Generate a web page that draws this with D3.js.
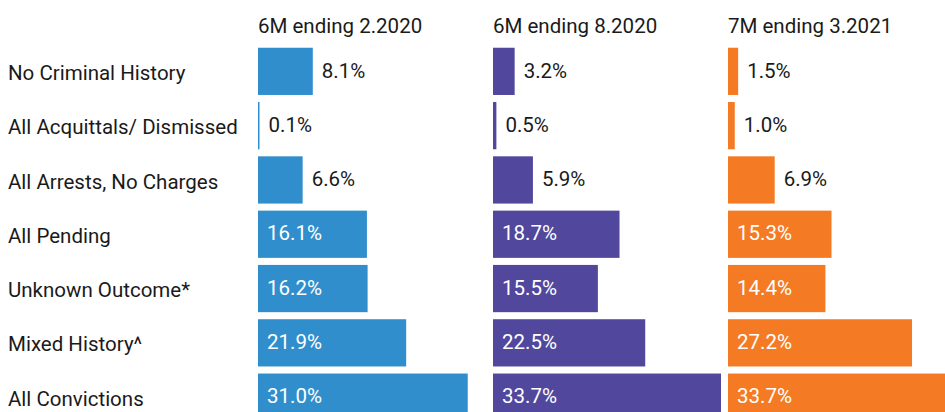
<!DOCTYPE html>
<html>
<head>
<meta charset="utf-8">
<script src="https://cdn.jsdelivr.net/npm/d3@7"></script>
<style>
  body { margin: 0; background: #fff; }
  svg { display: block; font-family: Roboto, "Noto Sans", sans-serif; }
</style>
</head>
<body>
<div id="chart"></div>
<script>
const categories = [
    'No Criminal History',
    'All Acquittals/ Dismissed',
    'All Arrests, No Charges',
    'All Pending',
    'Unknown Outcome*',
    'Mixed History^',
    'All Convictions'
];

const periods = ['6M ending 2.2020', '6M ending 8.2020', '7M ending 3.2021'];

const feb2020 = [8.1, 0.1, 6.6, 16.1, 16.2, 21.9, 31.0];
const aug2020 = [3.2, 0.5, 5.9, 18.7, 15.5, 22.5, 33.7];
const mar2021 = [1.5, 1.0, 6.9, 15.3, 14.4, 27.2, 33.7];

const colors = ['#318ecd', '#51479d', '#f47b23'];

const series = [feb2020, aug2020, mar2021];

const width = 945;
const height = 412;

const svg = d3.select('#chart').append('svg')
    .attr('width', width)
    .attr('height', height);

// one row per category
const y = d3.scaleBand()
    .domain(categories)
    .range([44.2, 44.2 + 54.3 * categories.length])
    .paddingInner(0.13)
    .paddingOuter(0.065);

// each panel starts here
const panelX = d3.scalePoint()
    .domain(periods)
    .range([258, 728]);

const x = d3.scaleLinear()
    .domain([0, 33.7])
    .range([0, 228]);

// row labels
svg.append('g')
    .selectAll('text')
    .data(categories)
    .join('text')
        .attr('x', 8)
        .attr('y', d => y(d) + y.bandwidth() / 2)
        .attr('dy', '0.42em')
        .attr('font-size', 20.5)
        .attr('fill', '#1a1a1a')
        .text(d => d);

periods.forEach((period, p) => {
    const g = svg.append('g')
        .attr('transform', `translate(${panelX(period)},0)`);

    g.append('text')
        .attr('x', 0)
        .attr('y', 33)
        .attr('font-size', 20.5)
        .attr('fill', '#1a1a1a')
        .text(period);

    const rows = series[p].map((v, i) => ({cat: categories[i], value: v}));

    g.selectAll('rect')
        .data(rows)
        .join('rect')
            .attr('x', 0)
            .attr('y', d => y(d.cat))
            .attr('width', d => Math.max(1.5, x(d.value)))
            .attr('height', y.bandwidth())
            .attr('fill', colors[p]);

    g.selectAll('text.value')
        .data(rows)
        .join('text')
            .attr('class', 'value')
            .attr('x', d => d.value > 10 ? 9 : Math.max(1.5, x(d.value)) + 9)
            .attr('y', d => y(d.cat) + y.bandwidth() / 2)
            .attr('dy', '0.3em')
            .attr('font-size', 20.5)
            .attr('fill', d => d.value > 10 ? '#fff' : '#1a1a1a')
            .text(d => d.value.toFixed(1) + '%');
});
</script>
</body>
</html>
